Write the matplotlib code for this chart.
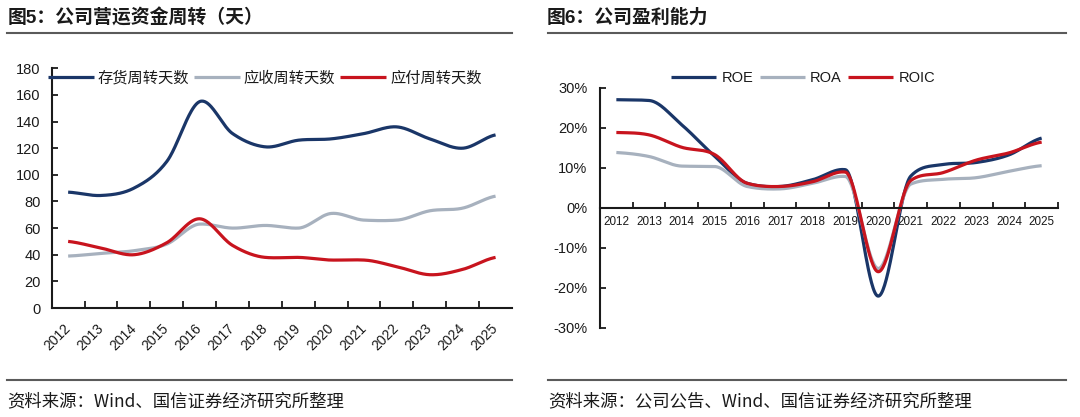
import numpy as np
import matplotlib
matplotlib.use('Agg')
import matplotlib.pyplot as plt
from matplotlib.lines import Line2D

plt.rcParams['font.family'] = ['Liberation Sans', 'Noto Sans CJK SC', 'DejaVu Sans']

# ---------------- data ----------------
years = [str(y) for y in range(2012, 2026)]
inventory_days = [87, 84.5, 90, 110, 155, 131, 121, 126, 127, 131, 136, 127, 120, 130]
receivable_days = [39, 41, 43, 48, 63, 60, 62, 60, 71, 66, 66, 73, 75, 84]
payable_days = [50, 45, 40, 49, 67, 47, 38, 38, 36, 36, 31, 25, 29, 38]
left_labels = ['存货周转天数', '应收周转天数', '应付周转天数']

roe = [27.0, 26.8, 20.7, 12.9, 6.1, 5.3, 7.0, 9.5, -22.1, 7.9, 10.8, 11.3, 13.2, 17.4]
roa = [13.8, 12.8, 10.4, 10.3, 5.3, 4.7, 6.1, 7.8, -15.2, 5.9, 7.1, 7.5, 9.1, 10.5]
roic = [18.8, 18.2, 15.1, 13.3, 6.1, 5.3, 6.5, 8.9, -16.0, 6.8, 8.8, 11.9, 13.7, 16.4]
right_labels = ['ROE', 'ROA', 'ROIC']

left_title = '图5：公司营运资金周转（天）'
right_title = '图6：公司盈利能力'
left_source = '资料来源：Wind、国信证券经济研究所整理'
right_source = '资料来源：公司公告、Wind、国信证券经济研究所整理'

NAVY = '#1A3668'
GRAY = '#A7B1BE'
RED = '#C8141E'
INK = '#1a1a1a'

W, H = 1080, 417


def smooth(x, y, n=40):
    """Smoothed drawing path through the data points (Catmull-Rom tangents
    with a mild overshoot limiter)."""
    x = np.asarray(x, float)
    y = np.asarray(y, float)
    d = np.diff(y) / np.diff(x)
    m = np.zeros_like(y)
    m[0] = d[0] / 2
    m[-1] = d[-1] / 2
    for k in range(1, len(y) - 1):
        cr = (d[k - 1] + d[k]) / 2
        p = d[k - 1] * d[k]
        if p == 0:
            m[k] = cr * 0.5
        elif p < 0:
            lim = 0.5 * min(abs(d[k - 1]), abs(d[k]))
            m[k] = np.sign(cr) * min(abs(cr), lim)
        else:
            lim = 3 * min(abs(d[k - 1]), abs(d[k]))
            m[k] = np.sign(cr) * min(abs(cr), lim)
    t = np.linspace(0, 1, n, endpoint=False)
    h00 = 2 * t**3 - 3 * t**2 + 1
    h10 = t**3 - 2 * t**2 + t
    h01 = -2 * t**3 + 3 * t**2
    h11 = t**3 - t**2
    X, Y = [], []
    for i in range(len(y) - 1):
        h = x[i + 1] - x[i]
        X.append(x[i] + t * h)
        Y.append(h00 * y[i] + h10 * h * m[i] + h01 * y[i + 1] + h11 * h * m[i + 1])
    X.append([x[-1]])
    Y.append([y[-1]])
    return np.concatenate(X), np.concatenate(Y)


def fx(px):
    return px / W


def fy(py):
    return 1 - py / H


fig = plt.figure(figsize=(W / 100, H / 100), dpi=100)

# ---------------- titles / rules / sources ----------------
fig.text(fx(8), fy(18), left_title, fontsize=13.6, fontweight='bold',
         family=['Liberation Sans', 'Noto Sans CJK SC'], color=INK, va='center', ha='left')
fig.text(fx(547), fy(18), right_title, fontsize=13.6, fontweight='bold',
         family=['Liberation Sans', 'Noto Sans CJK SC'], color=INK, va='center', ha='left')
for (x0, x1) in [(7, 512), (548, 1066)]:
    fig.add_artist(Line2D([fx(x0), fx(x1)], [fy(33.3), fy(33.3)], color='#5a5a5a', lw=1.5))
    fig.add_artist(Line2D([fx(x0), fx(x1)], [fy(380), fy(380)], color='#5a5a5a', lw=1.5))
fig.text(fx(7), fy(401), left_source, fontsize=12.5, family=['Noto Sans CJK SC'],
         color=INK, va='center', ha='left')
fig.text(fx(548), fy(401), right_source, fontsize=12.5, family=['Noto Sans CJK SC'],
         color=INK, va='center', ha='left')

# ---------------- left chart ----------------
ax1 = fig.add_axes([fx(51.7), fy(308), fx(512) - fx(51.7), (308 - 68.3) / H])
xs = np.arange(len(years)) + 0.5
for vals, col, lab in zip([inventory_days, receivable_days, payable_days],
                          [NAVY, GRAY, RED], left_labels):
    sx, sy = smooth(xs, vals)
    ax1.plot(sx, sy, color=col, lw=2.3, label=lab, solid_capstyle='butt')
ax1.set_xlim(0, len(years))
ax1.set_ylim(0, 180)
ax1.set_yticks(np.arange(0, 181, 20))
ax1.set_xticks(np.arange(1, len(years)))
ax1.set_xticks(xs, minor=True)
ax1.set_xticklabels([], minor=False)
ax1.set_xticklabels(years, minor=True)
for s in ['top', 'right']:
    ax1.spines[s].set_visible(False)
for s in ['left', 'bottom']:
    ax1.spines[s].set_linewidth(1.5)
    ax1.spines[s].set_color(INK)
ax1.tick_params(axis='y', direction='in', length=4, width=1.3, pad=8,
                labelsize=10.5, colors=INK)
ax1.tick_params(axis='x', which='major', direction='in', length=5, width=1.3, colors=INK)
ax1.tick_params(axis='x', which='minor', length=0, pad=13, labelsize=10, colors=INK)
for lbl in ax1.get_xticklabels(minor=True):
    lbl.set_rotation(45)
    lbl.set_ha('right')
    lbl.set_va('center')
    lbl.set_rotation_mode('anchor')
leg1 = ax1.legend(loc='center left', bbox_to_anchor=(fx(47.8), fy(78)),
                  bbox_transform=fig.transFigure, ncol=3, frameon=False,
                  handlelength=3.0, handletextpad=0.26, columnspacing=0.33,
                  borderpad=0, borderaxespad=0,
                  prop={'family': ['Noto Sans CJK SC'], 'size': 11, 'weight': 'medium'})
for t in leg1.get_texts():
    t.set_color(INK)

# ---------------- right chart ----------------
ax2 = fig.add_axes([fx(600), fy(327.7), (1058 - 600) / W, 240 / H])
for vals, col, lab in zip([roe, roa, roic], [NAVY, GRAY, RED], right_labels):
    sx, sy = smooth(xs, vals)
    ax2.plot(sx, sy, color=col, lw=2.3, label=lab, solid_capstyle='butt')
ax2.set_xlim(0, len(years))
ax2.set_ylim(-30, 30)
ax2.set_yticks(np.arange(-30, 31, 10))
ax2.set_yticklabels([f'{v}%' for v in range(-30, 31, 10)])
ax2.set_xticks(np.arange(1, len(years) + 1))
ax2.set_xticks(xs, minor=True)
ax2.set_xticklabels([], minor=False)
ax2.set_xticklabels(years, minor=True)
ax2.spines['bottom'].set_position(('data', 0))
for s in ['top', 'right']:
    ax2.spines[s].set_visible(False)
for s in ['left', 'bottom']:
    ax2.spines[s].set_linewidth(1.5)
    ax2.spines[s].set_color(INK)
ax2.tick_params(axis='y', direction='in', length=4, width=1.3, pad=9,
                labelsize=10.5, colors=INK)
ax2.tick_params(axis='x', which='major', direction='in', length=4, width=1.3, colors=INK)
ax2.tick_params(axis='x', which='minor', length=0, pad=6, labelsize=8.4, colors=INK)
leg2 = ax2.legend(loc='center left', bbox_to_anchor=(fx(671), fy(78.3)),
                  bbox_transform=fig.transFigure, ncol=3, frameon=False,
                  handlelength=3.1, handletextpad=0.35, columnspacing=0.45,
                  borderpad=0, borderaxespad=0,
                  prop={'family': ['Liberation Sans'], 'size': 10.5})
for t in leg2.get_texts():
    t.set_color(INK)

fig.savefig('out.png', dpi=100)
